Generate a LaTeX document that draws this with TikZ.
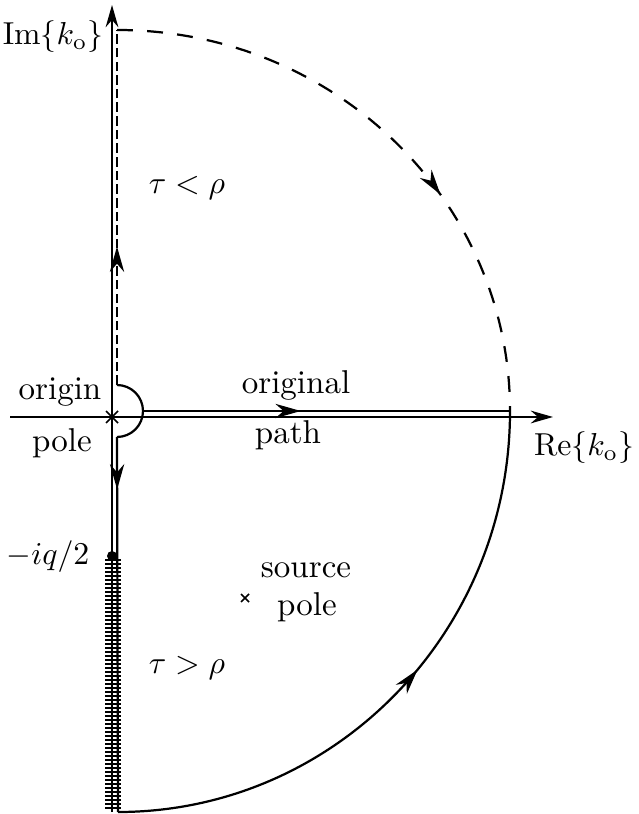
\documentclass[tikz,border=0pt]{standalone}
\usetikzlibrary{arrows.meta,decorations.markings}
\begin{document}
\begin{tikzpicture}[x=0.315pt,y=-0.315pt,
  ln/.style={line width=0.7pt},
  tip/.style={-{Stealth[length=7pt,width=4pt]}},
  midarrow/.style={postaction={decorate},decoration={markings,mark=at position #1 with {\arrow{Stealth[length=8pt,width=4.5pt]}}}},
  lbl/.style={inner sep=0pt, font=\fontsize{10.4}{12}\selectfont}]
\useasboundingbox (0,0) rectangle (638,814);
% axes
\coordinate (ybot) at (112,812);
\coordinate (ytop) at (112,5);
\coordinate (xl) at (10,417);
\coordinate (xr) at (553,417);
\draw[ln,tip] (ybot) -- (ytop);
\draw[ln,tip] (xl) -- (xr);
% origin pole cross
\node (origin) at (112,417) {};
\draw[line width=0.5pt] (106,411) -- (118,423) (106,423) -- (118,411);
% contour points
\coordinate (ctop) at (117,30);
\coordinate (semitop) at (117,385);
\coordinate (semibot) at (117,437);
\coordinate (cbot) at (118,812);
\coordinate (pstart) at (143,411);
\coordinate (pend) at (510,411);
% upper dashed vertical with arrow up
\draw[ln,dash pattern=on 3pt off 1.3pt,midarrow=0.39] (semitop) -- (ctop);
% indentation semicircle
\draw[ln] (semitop) arc[start angle=-90,end angle=90,radius=26];
% original path
\draw[ln,midarrow=0.43] (pstart) -- (pend);
% lower vertical
\draw[ln,midarrow=0.14] (semibot) -- (cbot);
% upper dashed arc
\draw[ln,dash pattern=on 5pt off 4.5pt,midarrow=0.62] (ctop) arc[start angle=-90,end angle=0,x radius=393,y radius=381];
% lower arc
\draw[ln,midarrow=0.55] (cbot) arc[start angle=90,end angle=0,x radius=392,y radius=401];
% branch point and hatching
\fill (112,556) circle[radius=5];
\foreach \yy in {560,564,...,810} \draw[line width=0.45pt] (105,\yy) -- (121,\yy);
% source pole
\node (srcx) at (245,598) {};
\draw[line width=0.5pt] (241,594) -- (249,602) (241,602) -- (249,594);
% labels
\node[lbl] (im) at (53,37) {$\mathrm{Im}\{k_{\mathrm o}\}$};
\node[lbl] (re) at (584,448) {$\mathrm{Re}\{k_{\mathrm o}\}$};
\node[lbl] (tlr) at (187,188) {$\tau<\rho$};
\node[lbl] (tgr) at (187,668) {$\tau>\rho$};
\node[lbl] (orig) at (60,392) {origin};
\node[lbl] (pole1) at (62,443) {pole};
\node[lbl] (opath1) at (296,385) {original};
\node[lbl] (opath2) at (288,435) {path};
\node[lbl] (iq) at (48,557) {$-iq/2$};
\node[lbl] (src1) at (306,570) {source};
\node[lbl] (src2) at (307,607) {pole};
\end{tikzpicture}
\end{document}
